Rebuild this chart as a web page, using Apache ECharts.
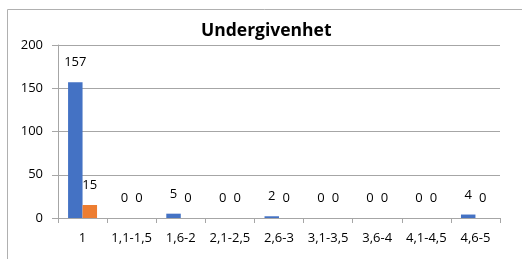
<!DOCTYPE html>
<html><head><meta charset="utf-8">
<script src="https://cdn.jsdelivr.net/npm/echarts@6/dist/echarts.min.js"></script>
<style>html,body{margin:0;padding:0;background:#fff}#c{width:522px;height:259px}</style>
</head><body><div id="c"></div>
<script>
const categories = ['1','1,1-1,5','1,6-2','2,1-2,5','2,6-3','3,1-3,5','3,6-4','4,1-4,5','4,6-5'];
const seriesA = [157,0,5,0,2,0,0,0,4];
const seriesB = [15,0,0,0,0,0,0,0,0];
const yTicks = {min:0, max:200, interval:50};
const titleText = 'Undergivenhet';

const font = 'Open Sans';
const chart = echarts.init(document.getElementById('c'), null, {renderer:'canvas'});
const lbl = {show:true, position:'top', distance:13, color:'#000', fontFamily:font, fontSize:13};
chart.setOption({
  animation:false,
  title:{text:titleText, left:201, top:22, padding:0, textStyle:{fontFamily:font, fontWeight:'bold', fontSize:17.5, color:'#000'}},
  graphic:[{type:'polyline', shape:{points:[[7.5,259],[7.5,9.5],[522,9.5]]}, style:{stroke:'#b0b0b0', lineWidth:1, fill:null}}],
  grid:{left:58, right:22, top:45, bottom:41},
  xAxis:{type:'category', data:categories,
    axisLine:{lineStyle:{color:'#a6a6a6'}},
    axisTick:{show:true, length:5, alignWithLabel:false, lineStyle:{color:'#a6a6a6'}},
    axisLabel:{color:'#000', fontFamily:font, fontSize:13, margin:14, interval:0}},
  yAxis:{type:'value', min:yTicks.min, max:yTicks.max, interval:yTicks.interval,
    axisLine:{show:true, lineStyle:{color:'#a6a6a6'}},
    axisTick:{show:true, length:6, inside:false, lineStyle:{color:'#a6a6a6'}},
    splitLine:{lineStyle:{color:'#a6a6a6'}},
    axisLabel:{color:'#000', fontFamily:font, fontSize:13, margin:15}},
  series:[
    {type:'bar', data:seriesA, barGap:'0%', barCategoryGap:'41%', itemStyle:{color:'#4472C4'}, label:lbl},
    {type:'bar', data:seriesB, barGap:'0%', barCategoryGap:'41%', itemStyle:{color:'#ED7D31'}, label:lbl}
  ]
});
</script></body></html>
